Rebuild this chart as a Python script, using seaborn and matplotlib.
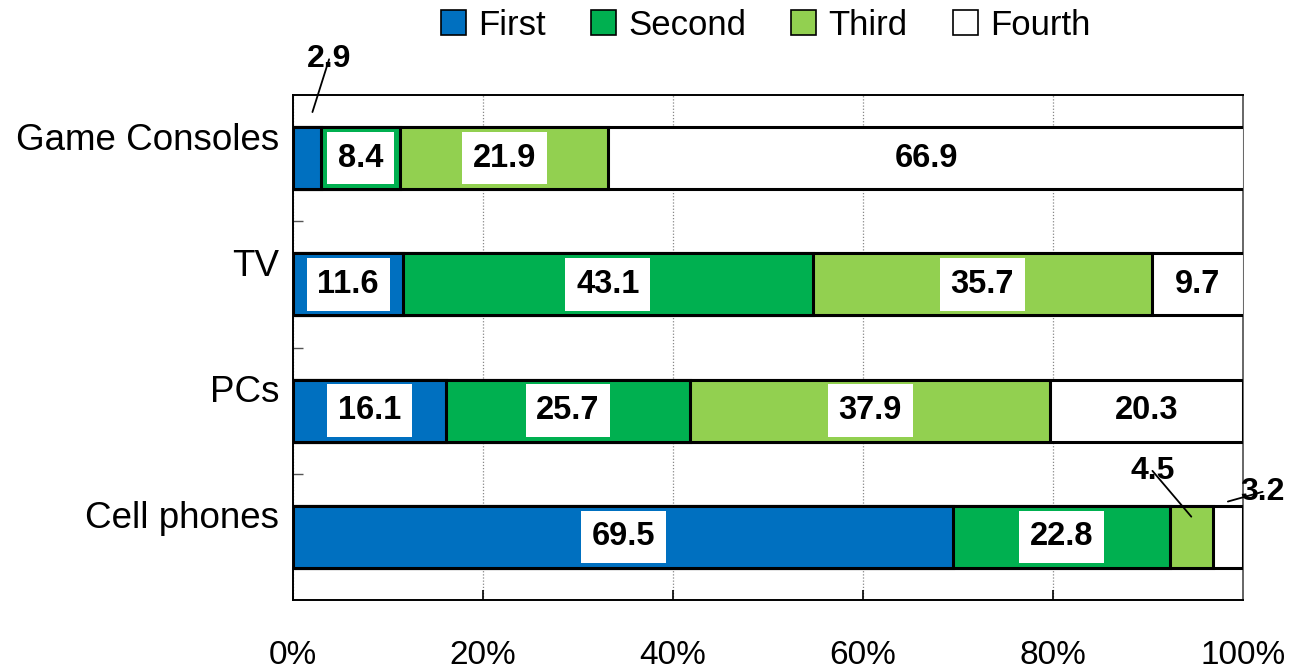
import numpy as np
import pandas as pd
import matplotlib
matplotlib.use("Agg")
import matplotlib.pyplot as plt
import matplotlib.transforms as mtransforms
from matplotlib.patches import Patch
import seaborn as sns

# Share of households by ownership rank for each device (%)
categories = ["Game Consoles", "TV", "PCs", "Cell phones"]
series_names = ["First", "Second", "Third", "Fourth"]
first = [2.9, 11.6, 16.1, 69.5]
second = [8.4, 43.1, 25.7, 22.8]
third = [21.9, 35.7, 37.9, 4.5]
fourth = [66.9, 9.7, 20.3, 3.2]
x_ticks = [0, 20, 40, 60, 80, 100]
x_tick_labels = ["0%", "20%", "40%", "60%", "80%", "100%"]

colors = ["#0070C0", "#00B050", "#92D050", "#FFFFFF"]

sns.set_theme(style="white")
plt.rcParams["font.family"] = ["Liberation Sans", "DejaVu Sans"]
plt.rcParams["text.color"] = "black"
plt.rcParams["xtick.color"] = "black"
plt.rcParams["ytick.color"] = "black"
plt.rcParams["xtick.labelcolor"] = "black"
plt.rcParams["ytick.labelcolor"] = "black"

values = np.array([first, second, third, fourth])
cum = np.cumsum(values, axis=0)
starts = cum - values

fig = plt.figure(figsize=(12.98, 6.71), dpi=100)
ax = fig.add_axes([0.2257, 0.1058, 0.7320, 0.7526])

# Stacked bars: draw cumulative totals from the widest layer down
for k in range(len(series_names) - 1, -1, -1):
    df = pd.DataFrame({"device": categories, "total": cum[k]})
    sns.barplot(data=df, x="total", y="device", orient="h", color=colors[k],
                saturation=1, edgecolor="black", linewidth=2.2, width=0.49,
                ax=ax, zorder=3)

# Value labels inside the segments
small = {(0, 0): (12, 38), (3, 2): (-28, 33), (3, 3): (25, 7)}
for k in range(len(series_names)):
    for i in range(len(categories)):
        v = values[k, i]
        cx = starts[k, i] + v / 2
        if (i, k) in small:
            continue
        ax.text(cx, i, f"{v:.1f}", ha="center", va="center", fontsize=23.5,
                fontweight="bold", color="black", zorder=5,
                bbox=dict(boxstyle="square,pad=0.33", fc="white", ec="none"))

# Callout labels for the narrow segments
callout_anchor = {(0, 0): (0.6, -0.365), (3, 2): (0.0, -0.16), (3, 3): (0.0, -0.28)}
for (i, k), (dx, dy) in small.items():
    v = values[k, i]
    cx = starts[k, i] + v / 2
    ax_, ay_ = callout_anchor[(i, k)]
    ax.annotate(f"{v:.1f}", xy=(cx + ax_, i + ay_), xytext=(dx, dy),
                textcoords="offset points", ha="center", va="center",
                fontsize=23, fontweight="bold", color="black", zorder=6,
                annotation_clip=False,
                arrowprops=dict(arrowstyle="-", color="black", lw=1.3,
                                shrinkA=0, shrinkB=0, patchA=None))

ax.set_xlim(0, 100)
ax.set_ylim(3.5, -0.5)
ax.set_xlabel("")
ax.set_ylabel("")
ax.set_xticks(x_ticks)
ax.set_xticklabels(x_tick_labels, fontsize=24, color="black")
ax.tick_params(axis="x", direction="in", length=7, width=1.2, color="black",
               pad=29, bottom=True)
ax.set_yticks(range(len(categories)))
ax.set_yticklabels(categories, fontsize=26.5, color="black")
ax.tick_params(axis="y", which="major", length=0, pad=10)
ax.set_yticks([0.5, 1.5, 2.5], minor=True)
ax.tick_params(axis="y", which="minor", direction="in", length=7, width=1.0,
               color="#555555", left=True)

offset = mtransforms.ScaledTranslation(0, 0.22, fig.dpi_scale_trans)
for lab in ax.get_yticklabels():
    lab.set_transform(lab.get_transform() + offset)

ax.xaxis.grid(True, linestyle=(0, (1, 1.5)), color="#888888", linewidth=0.9)
ax.yaxis.grid(False)
ax.set_axisbelow(True)
for side in ["left", "bottom", "top"]:
    ax.spines[side].set_color("black")
    ax.spines[side].set_linewidth(1.4)
ax.spines["right"].set_color("#666666")
ax.spines["right"].set_linewidth(1.4)

handles = [Patch(facecolor=c, edgecolor="black", linewidth=1.2) for c in colors]
fig.legend(handles, series_names, loc="center", bbox_to_anchor=(0.590, 0.962),
           ncol=4, frameon=False, fontsize=25, handlelength=0.72,
           handleheight=0.72, handletextpad=0.35, columnspacing=1.3,
           labelcolor="black")

fig.savefig("out.png", dpi=100)
